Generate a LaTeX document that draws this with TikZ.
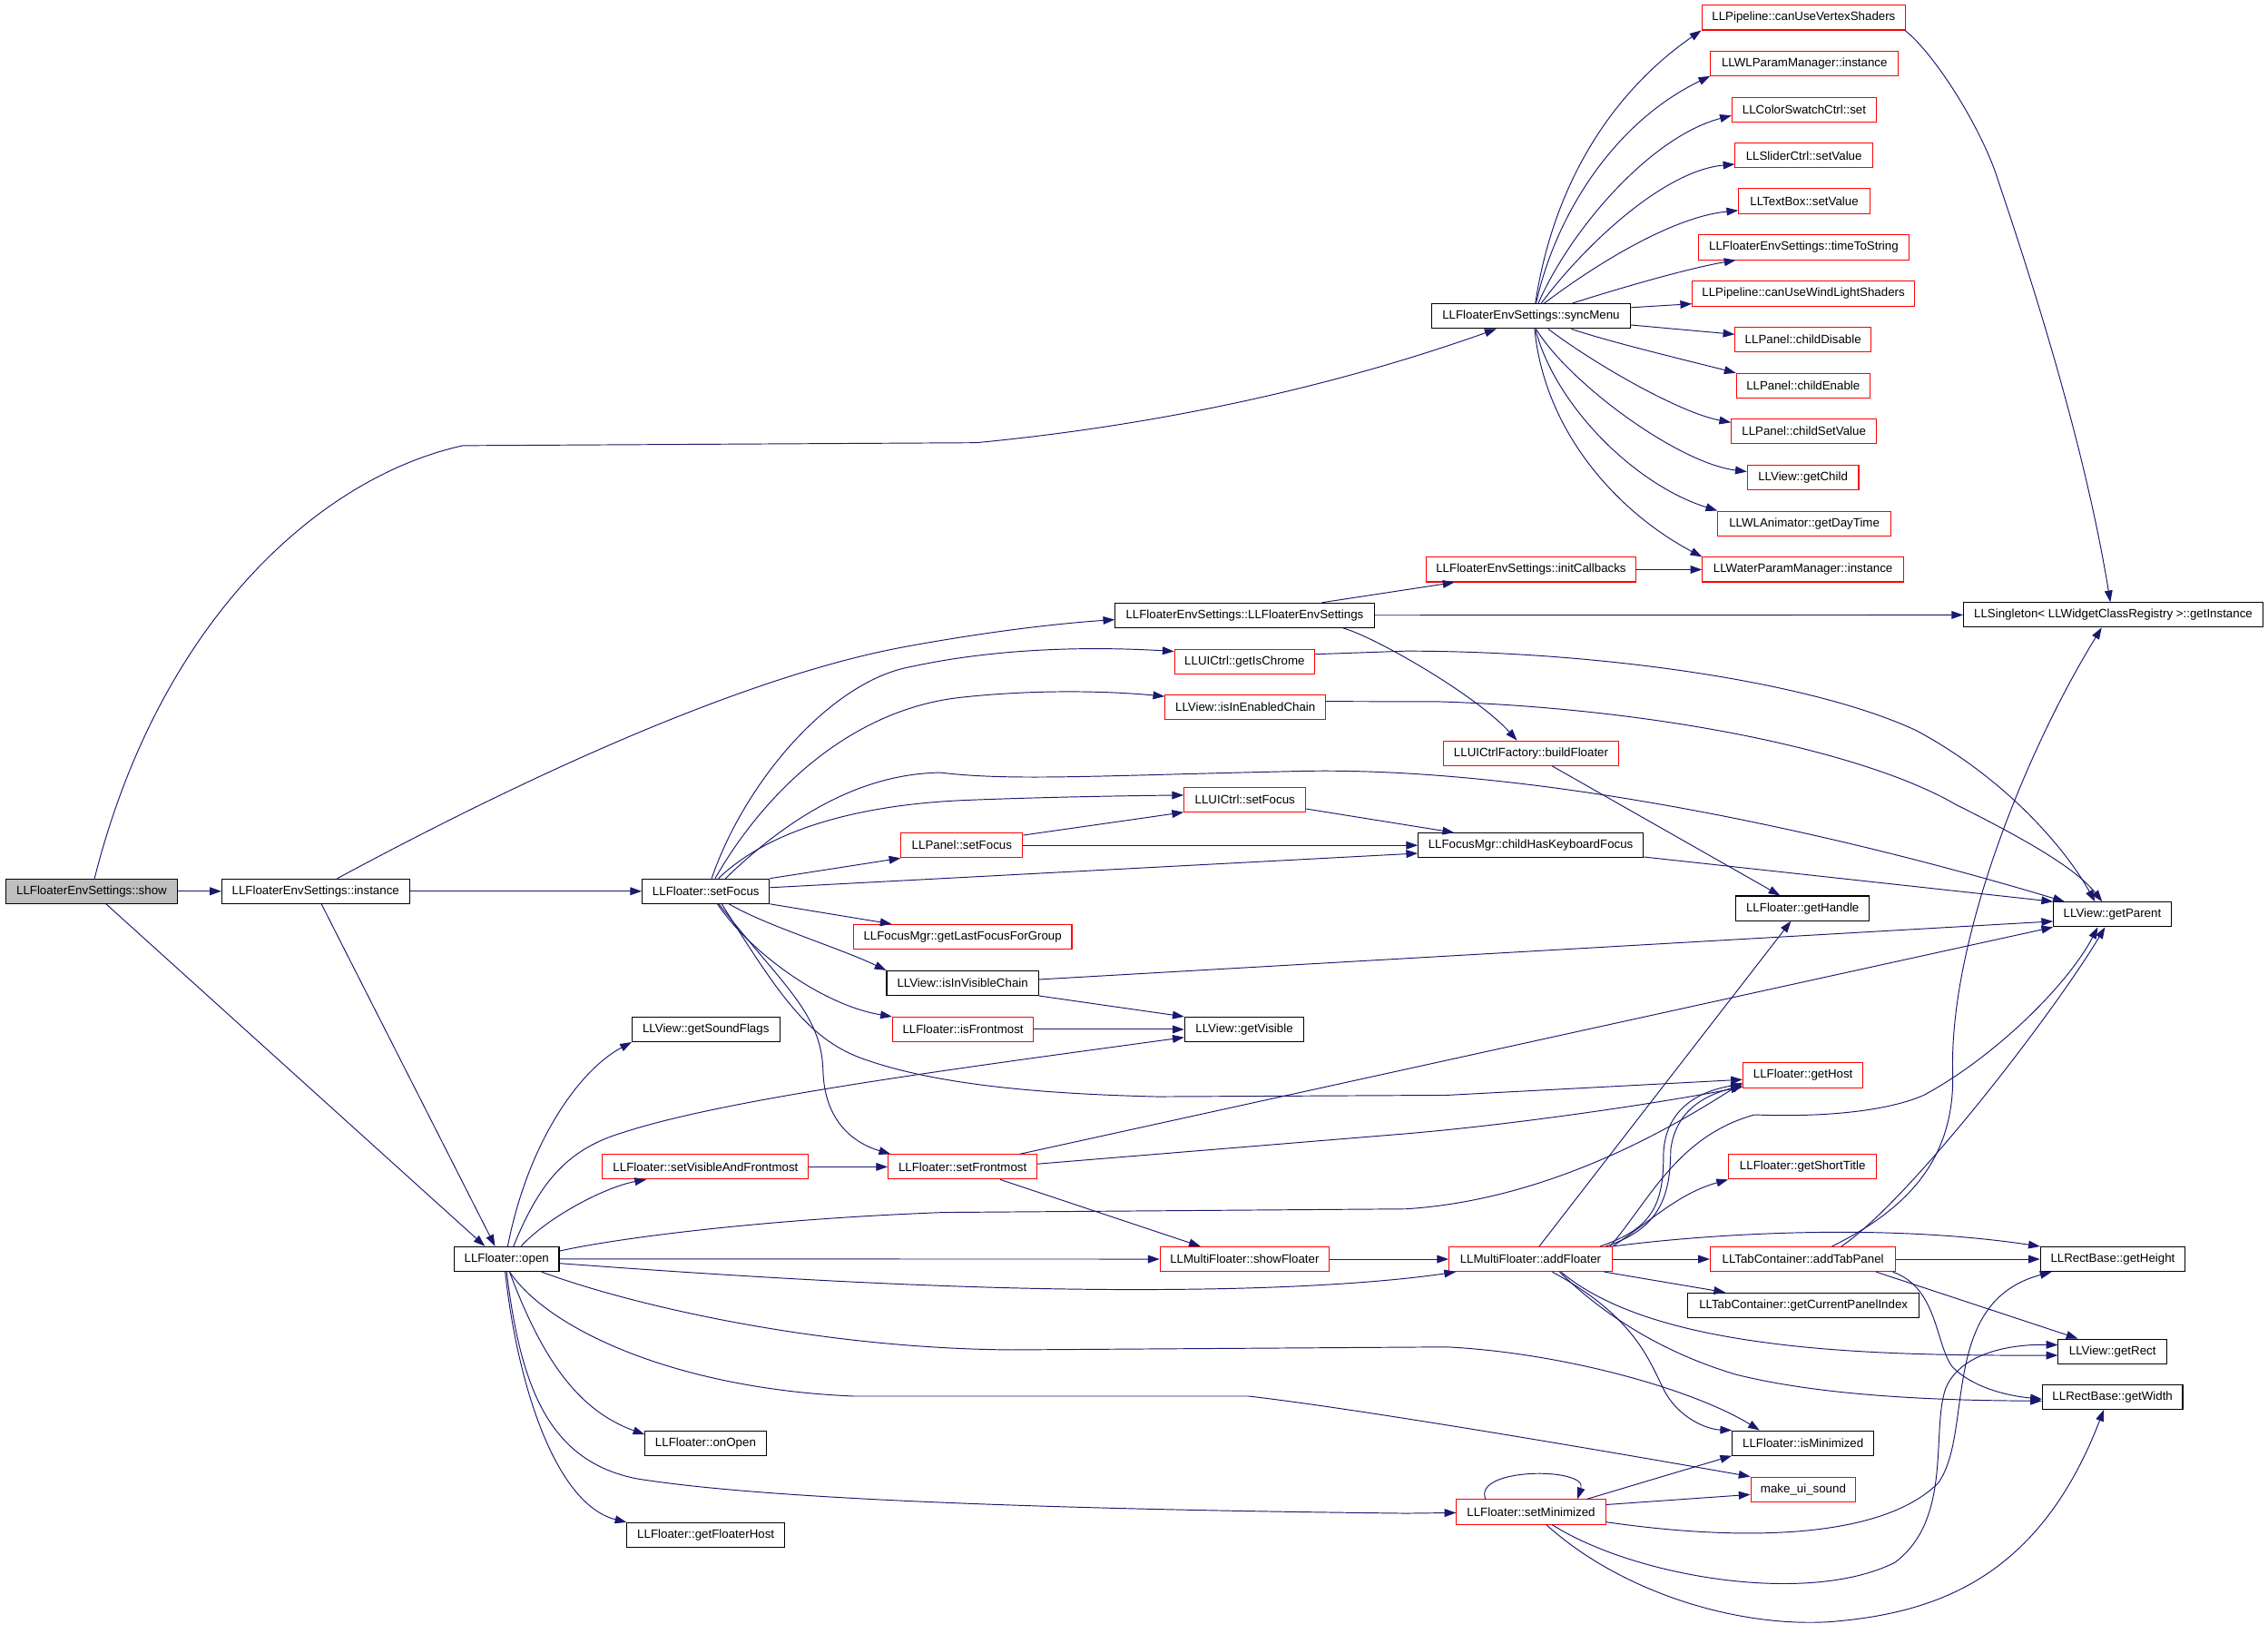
\documentclass[tikz,border=0pt]{standalone}
\usepackage{fontspec}
\setmainfont{Liberation Sans}
\usetikzlibrary{arrows.meta}
\definecolor{edgec}{HTML}{191970}
\definecolor{boxred}{HTML}{FF0000}
\definecolor{showgray}{HTML}{BFBFBF}
\begin{document}
\begin{tikzpicture}[x=1pt,y=-1pt,
  bbox/.style={draw=black,rectangle,inner sep=0pt,minimum height=17pt,line width=0.65pt,
    font=\fontsize{8.35}{10}\selectfont,text=black},
  rbox/.style={bbox,draw=boxred},
  e/.style={draw=edgec,line width=0.6pt,-{Triangle[length=8pt,width=5.5pt]}}]
\fill[white] (0,0) rectangle (1568,1136.3);
\useasboundingbox (0,0) rectangle (1568,1136.3);
% ---- nodes
\node[bbox,minimum width=118.1pt,fill=showgray] (show) at (63.35,616) {LLFloaterEnvSettings::show};
\node[bbox,minimum width=129.6pt] (instance) at (218.2,616) {LLFloaterEnvSettings::instance};
\node[bbox,minimum width=88pt] (setFocus) at (488,616) {LLFloater::setFocus};
\node[bbox,minimum width=72.5pt] (open) at (350.25,870.2) {LLFloater::open};
\node[bbox,minimum width=137.1pt] (sync) at (1058.45,218.6) {LLFloaterEnvSettings::syncMenu};
\node[rbox,minimum width=141pt] (vertex) at (1247,12.2) {LLPipeline::canUseVertexShaders};
\node[rbox,minimum width=129.9pt] (wlp) at (1247.55,43.8) {LLWLParamManager::instance};
\node[rbox,minimum width=99.9pt] (color) at (1247.35,75.8) {LLColorSwatchCtrl::set};
\node[rbox,minimum width=95.1pt] (slider) at (1247.15,107.5) {LLSliderCtrl::setValue};
\node[rbox,minimum width=90.8pt] (textbox) at (1247.4,139) {LLTextBox::setValue};
\node[rbox,minimum width=146pt] (tts) at (1247,171) {LLFloaterEnvSettings::timeToString};
\node[rbox,minimum width=153.6pt] (wind) at (1246.8,203) {LLPipeline::canUseWindLightShaders};
\node[rbox,minimum width=93.9pt] (cdis) at (1246.55,234.6) {LLPanel::childDisable};
\node[rbox,minimum width=92.4pt] (cen) at (1246.6,266.6) {LLPanel::childEnable};
\node[rbox,minimum width=100.3pt] (csv) at (1247.15,298) {LLPanel::childSetValue};
\node[rbox,minimum width=77pt] (child) at (1246.5,330) {LLView::getChild};
\node[rbox,minimum width=119.7pt] (daytime) at (1247.45,361.8) {LLWLAnimator::getDayTime};
\node[rbox,minimum width=139pt] (water) at (1246.5,393.7) {LLWaterParamManager::instance};
\node[rbox,minimum width=145pt] (init) at (1058.5,393.7) {LLFloaterEnvSettings::initCallbacks};
\node[bbox,minimum width=179pt] (ctor) at (860.5,425.3) {LLFloaterEnvSettings::LLFloaterEnvSettings};
\node[bbox,minimum width=207pt] (single) at (1461,425) {LLSingleton< LLWidgetClassRegistry >::getInstance};
\node[rbox,minimum width=97pt] (chrome) at (860.5,457.2) {LLUICtrl::getIsChrome};
\node[rbox,minimum width=111pt] (enabled) at (861,488.8) {LLView::isInEnabledChain};
\node[rbox,minimum width=121pt] (build) at (1058.5,520.6) {LLUICtrlFactory::buildFloater};
\node[rbox,minimum width=84.2pt] (uisf) at (860.7,552.6) {LLUICtrl::setFocus};
\node[rbox,minimum width=84pt] (panelsf) at (665,584.3) {LLPanel::setFocus};
\node[bbox,minimum width=155.5pt] (chkf) at (1058.25,584.3) {LLFocusMgr::childHasKeyboardFocus};
\node[bbox,minimum width=92.5pt] (handle) at (1246.25,627.8) {LLFloater::getHandle};
\node[bbox,minimum width=81.3pt] (parent) at (1460.35,632) {LLView::getParent};
\node[rbox,minimum width=151pt] (lastf) at (665.5,647.5) {LLFocusMgr::getLastFocusForGroup};
\node[bbox,minimum width=105pt] (vis) at (665.5,679.5) {LLView::isInVisibleChain};
\node[bbox,minimum width=102pt] (sound) at (488,711.5) {LLView::getSoundFlags};
\node[rbox,minimum width=97.6pt] (front) at (665.8,711.5) {LLFloater::isFrontmost};
\node[bbox,minimum width=82.5pt] (vvis) at (860.25,711.5) {LLView::getVisible};
\node[rbox,minimum width=83pt] (host) at (1246.5,743.2) {LLFloater::getHost};
\node[rbox,minimum width=142.4pt] (svaf) at (487.8,806.5) {LLFloater::setVisibleAndFrontmost};
\node[rbox,minimum width=103pt] (sfm) at (665.5,806.5) {LLFloater::setFrontmost};
\node[rbox,minimum width=102.5pt] (gst) at (1246.25,806.5) {LLFloater::getShortTitle};
\node[rbox,minimum width=117pt] (showfl) at (860.5,870.3) {LLMultiFloater::showFloater};
\node[rbox,minimum width=112.7pt] (addfl) at (1058.15,870.3) {LLMultiFloater::addFloater};
\node[rbox,minimum width=128.2pt] (atp) at (1246.5,870.3) {LLTabContainer::addTabPanel};
\node[bbox,minimum width=99.9pt] (height) at (1460.65,870.3) {LLRectBase::getHeight};
\node[bbox,minimum width=159.7pt] (gcpi) at (1246.85,902.1) {LLTabContainer::getCurrentPanelIndex};
\node[bbox,minimum width=75pt] (rect) at (1460.5,934) {LLView::getRect};
\node[bbox,minimum width=97pt] (width) at (1460.5,965.5) {LLRectBase::getWidth};
\node[bbox,minimum width=83.6pt] (onopen) at (487.8,997.5) {LLFloater::onOpen};
\node[bbox,minimum width=97.9pt] (ismin) at (1246.55,997.4) {LLFloater::isMinimized};
\node[rbox,minimum width=72.6pt] (mus) at (1246.7,1029.4) {make\_ui\_sound};
\node[rbox,minimum width=103pt] (setmin) at (1058.5,1045) {LLFloater::setMinimized};
\node[bbox,minimum width=108.9pt] (gfh) at (487.95,1061) {LLFloater::getFloaterHost};
% ---- edges from show / instance
\draw[e] (show) -- (instance);
\draw[e] ([xshift=10pt]show.south) -- ([xshift=-15pt]open.north);
\draw[e] ([xshift=2pt]show.north) .. controls (110,430) and (220,330) .. (320,308) -- (675,306) .. controls (800,294) and (920,268) .. ([xshift=-24pt]sync.south);
\draw[e] (instance) -- (setFocus);
\draw[e] ([xshift=15pt]instance.north) .. controls (330,555) and (500,470) .. (626,447) .. controls (680,437) and (730,431) .. ([yshift=-3pt]ctor.west);
\draw[e] ([xshift=4pt]instance.south) -- ([xshift=-8pt]open.north);
% ---- syncMenu fan
\draw[e] ([xshift=3pt]sync.north) .. controls (1075,120) and (1120,60) .. (vertex.south west);
\draw[e] ([xshift=3.5pt]sync.north) .. controls (1075,150) and (1115,85) .. (wlp.south west);
\draw[e] ([xshift=5pt]sync.north) .. controls (1085,160) and (1140,95) .. ([yshift=-4pt]color.west);
\draw[e] ([xshift=7pt]sync.north) .. controls (1095,170) and (1150,118) .. ([yshift=-6pt]slider.west);
\draw[e] ([xshift=9pt]sync.north) .. controls (1100,185) and (1155,150) .. ([yshift=-6.5pt]textbox.west);
\draw[e] ([xshift=28pt]sync.north) .. controls (1130,196) and (1170,185) .. ([xshift=-47pt]tts.south);
\draw[e] ([yshift=6pt]sync.east) -- ([yshift=-7pt]wind.west);
\draw[e] ([yshift=-6pt]sync.east) -- ([yshift=3.5pt]cdis.west);
\draw[e] ([xshift=28pt]sync.south) .. controls (1115,237) and (1170,250) .. (cen.north west);
\draw[e] ([xshift=12pt]sync.south) .. controls (1100,250) and (1160,285) .. ([yshift=6pt]csv.west);
\draw[e] ([xshift=3.5pt]sync.south) .. controls (1085,265) and (1160,320) .. ([yshift=4pt]child.west);
\draw[e] ([xshift=3pt]sync.south) .. controls (1075,280) and (1130,335) .. (daytime.north west);
\draw[e] ([xshift=2.5pt]sync.south) .. controls (1068,300) and (1120,355) .. (water.north west);
\draw[e] ([xshift=70pt]vertex.south) .. controls (1335,35) and (1365,80) .. (1379,117.6) .. controls (1400,180) and (1440,300) .. ([xshift=-2pt]single.north);
% ---- ctor
\draw[e] ([xshift=53.5pt]ctor.north) -- ([xshift=-53pt]init.south);
\draw[e] (ctor) -- (single);
\draw[e] ([xshift=68pt]ctor.south) .. controls (950,440) and (1020,480) .. ([xshift=-9.7pt]build.north);
\draw[e] (init) -- (water);
% ---- setFocus
\draw[e] ([xshift=4pt]setFocus.north) .. controls (515,540) and (575,470) .. (631,460.6) .. controls (680,450) and (740,446) .. ([yshift=7pt]chrome.west);
\draw[e] ([xshift=6.4pt]setFocus.north) .. controls (530,545) and (590,490) .. (664.7,482) .. controls (720,476) and (770,478) .. ([yshift=7.5pt]enabled.west);
\draw[e] ([xshift=13.6pt]setFocus.north) .. controls (540,570) and (590,535) .. (650,534) .. controls (700,540) and (760,536) .. (900,533) .. controls (1050,530) and (1250,570) .. ([xshift=8pt]parent.north west);
\draw[e] ([xshift=8.7pt]setFocus.north) .. controls (530,575) and (590,556) .. (670,553) .. controls (720,551) and (780,550) .. ([yshift=3pt]uisf.west);
\draw[e] (setFocus.north east) -- (panelsf.south west);
\draw[e] ([yshift=2.5pt]setFocus.east) -- ([yshift=-5.5pt]chkf.west);
\draw[e] (setFocus.south east) -- ([xshift=-49pt]lastf.north);
\draw[e] ([xshift=16pt]setFocus.south) .. controls (530,640) and (580,655) .. (vis.north west);
\draw[e] ([xshift=8pt]setFocus.south) .. controls (520,660) and (570,695) .. (front.north west);
\draw[e] ([xshift=9pt]setFocus.south) .. controls (540,680) and (568,700) .. (569,740) .. controls (570,775) and (590,790) .. ([xshift=2pt]sfm.north west);
\draw[e] ([xshift=11pt]setFocus.south) .. controls (540,690) and (560,720) .. (600,733) .. controls (650,750) and (720,756) .. (800,758) -- (1000,757) -- ([yshift=-3pt]host.west);
% ---- into getParent etc.
\draw[e] ([yshift=5pt]chrome.east) -- (972,450) .. controls (1100,450) and (1250,470) .. (1325,505) .. controls (1390,540) and (1430,590) .. ([xshift=-12pt]parent.north);
\draw[e] ([yshift=4pt]enabled.east) -- (996,485) .. controls (1150,490) and (1290,520) .. (1352,556) .. controls (1400,580) and (1435,600) .. ([xshift=-7pt]parent.north);
\draw[e] ([xshift=14.5pt]build.south) -- ([xshift=-15.6pt]handle.north);
\draw[e] ([yshift=-6.5pt]uisf.east) -- ([xshift=-53pt]chkf.north);
\draw[e] ([yshift=7pt]panelsf.east) -- (uisf.south west);
\draw[e] (panelsf) -- (chkf);
\draw[e] ([yshift=-8pt]chkf.east) -- (parent.north west);
\draw[e] ([yshift=2.5pt]vis.east) -- ([yshift=-4.8pt]parent.west);
\draw[e] (vis.south east) -- (vvis.north west);
\draw[e] (front) -- (vvis);
% ---- open
\draw[e] ([xshift=4.75pt]open.north) .. controls (372,820) and (390,795) .. (430,783) .. controls (500,760) and (650,740) .. ([yshift=-5.5pt]vvis.west);
\draw[e] ([xshift=0.75pt]open.north) .. controls (365,790) and (400,740) .. (sound.south west);
\draw[e] ([xshift=10pt]open.north) .. controls (380,840) and (420,820) .. ([xshift=-41pt]svaf.south);
\draw[e] (svaf) -- (sfm);
\draw[e] ([xshift=39.5pt]sfm.north) -- (parent.south west);
\draw[e] ([yshift=2pt]sfm.east) -- (972,783.6) .. controls (1050,777) and (1150,762) .. ([yshift=-8pt]host.west);
\draw[e] ([xshift=26pt]sfm.south) -- ([xshift=-30.5pt]showfl.north);
\draw[e] ([yshift=5.5pt]open.east) .. controls (420,857) and (520,843) .. (652,838) -- (972,835.6) .. controls (1060,830) and (1140,790) .. ([yshift=-5pt]host.west);
\draw[e] (open) -- (showfl);
\draw[e] ([yshift=-3pt]open.east) .. controls (560,886) and (700,893) .. (830,891) .. controls (900,890) and (960,886) .. ([xshift=5pt]addfl.south west);
\draw[e] ([xshift=24pt]open.south) .. controls (430,900) and (560,932) .. (700,933) -- (1000,931) .. controls (1080,935) and (1170,960) .. ([xshift=-30pt]ismin.north);
\draw[e] ([xshift=2pt]open.south) .. controls (380,920) and (470,960) .. (590,965) -- (863,965) .. controls (950,975) and (1150,1010) .. (mus.north west);
\draw[e] ([xshift=2pt]open.south) .. controls (375,940) and (400,975) .. ([yshift=6pt]onopen.west);
\draw[e] (open.south) .. controls (360,960) and (380,1010) .. (440,1022) .. controls (520,1035) and (700,1043) .. (972,1046) -- (setmin);
\draw[e] ([xshift=-1pt]open.south) .. controls (358,960) and (385,1040) .. (gfh.north west);
\draw[e] (showfl) -- (addfl);
% ---- addFloater
\draw[e] ([xshift=6pt]addfl.north) -- ([xshift=-8pt]handle.south);
\draw[e] ([xshift=48pt]addfl.north) .. controls (1140,850) and (1150,835) .. (1150,800) .. controls (1150,770) and (1170,755) .. ([yshift=-6pt]host.west);
\draw[e] ([xshift=52pt]addfl.north) .. controls (1145,850) and (1155,830) .. (1155,795) .. controls (1158,770) and (1175,758) .. ([yshift=-7pt]host.west);
\draw[e] (addfl.north east) .. controls (1140,845) and (1160,825) .. (gst.south west);
\draw[e] ([xshift=55pt]addfl.north) .. controls (1140,830) and (1160,785) .. (1213,770.5) .. controls (1250,772) and (1300,770) .. (1330,757) .. controls (1380,730) and (1430,680) .. ([xshift=-10pt]parent.south);
\draw[e] (addfl.north east) .. controls (1180,853) and (1300,845) .. (height.north west);
\draw[e] (addfl) -- (atp);
\draw[e] ([xshift=51pt]addfl.south) -- ([xshift=-54pt]gcpi.north);
\draw[e] ([xshift=21pt]addfl.south) .. controls (1110,905) and (1160,920) .. (1221,928) .. controls (1280,936) and (1350,937) .. ([yshift=-2.8pt]rect.west);
\draw[e] ([xshift=20pt]addfl.south) .. controls (1110,910) and (1150,935) .. (1200,950) .. controls (1260,965) and (1340,968) .. ([yshift=-2.8pt]width.west);
\draw[e] ([xshift=15pt]addfl.south) .. controls (1130,910) and (1140,940) .. (1150,960) .. controls (1160,980) and (1180,988) .. (ismin.north west);
% ---- addTabPanel
\draw[e] (atp) -- (height);
\draw[e] ([xshift=50.5pt]atp.south) -- ([xshift=-24pt]rect.north);
\draw[e] ([xshift=62pt]atp.south) .. controls (1340,890) and (1338,930) .. (1350,945) .. controls (1365,960) and (1390,965) .. ([yshift=-1.5pt]width.west);
\draw[e] ([xshift=20pt]atp.north) .. controls (1320,835) and (1352,800) .. (1350,740) .. controls (1348,650) and (1400,520) .. ([xshift=-8pt]single.south);
\draw[e] ([xshift=26.5pt]atp.north) .. controls (1320,830) and (1420,700) .. ([xshift=-5pt]parent.south);
% ---- setMinimized
\draw[e] ([xshift=-31.5pt]setmin.north) .. controls (1018,1014) and (1098,1014) .. ([xshift=32pt]setmin.north);
\draw[e] ([xshift=38.5pt]setmin.north) -- (ismin.south west);
\draw[e] ([yshift=5pt]setmin.east) -- ([yshift=-3.6pt]mus.west);
\draw[e] ([yshift=-7pt]setmin.east) .. controls (1200,1065) and (1300,1065) .. (1340,1025) .. controls (1365,990) and (1340,900) .. ([xshift=8pt]height.south west);
\draw[e] ([xshift=14.5pt]setmin.south) .. controls (1130,1090) and (1250,1110) .. (1310,1080) .. controls (1350,1050) and (1335,990) .. (1345,960) .. controls (1355,935) and (1390,929) .. ([yshift=4.4pt]rect.west);
\draw[e] ([xshift=10.5pt]setmin.south) .. controls (1120,1100) and (1200,1125) .. (1265,1121) .. controls (1340,1115) and (1410,1090) .. ([xshift=-6pt]width.south);
\end{tikzpicture}
\end{document}
